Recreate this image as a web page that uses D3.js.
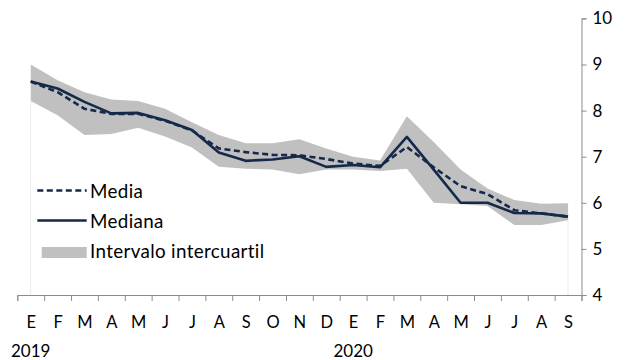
<!DOCTYPE html>
<html>
<head>
<meta charset="utf-8">
<script src="https://cdn.jsdelivr.net/npm/d3@7"></script>
<style>
  html, body { margin: 0; padding: 0; background: #ffffff; }
  svg { display: block; }
  text { font-family: Lato, "Open Sans", sans-serif; fill: #000; }
</style>
</head>
<body>
<svg id="chart" width="625" height="360"></svg>
<script>
// ---- Data ----
const months = ["E","F","M","A","M","J","J","A","S","O","N","D","E","F","M","A","M","J","J","A","S"];
const years = [{idx: 0, label: "2019"}, {idx: 12, label: "2020"}];
const media   = [8.63, 8.40, 8.04, 7.93, 7.93, 7.78, 7.57, 7.18, 7.10, 7.04, 7.03, 6.95, 6.85, 6.80, 7.21, 6.77, 6.36, 6.19, 5.84, 5.77, 5.70];
const mediana = [8.63, 8.48, 8.19, 7.94, 7.95, 7.79, 7.58, 7.09, 6.91, 6.94, 7.01, 6.78, 6.82, 6.77, 7.43, 6.72, 6.00, 6.00, 5.78, 5.77, 5.70];
const q3      = [9.00, 8.66, 8.40, 8.24, 8.21, 8.04, 7.75, 7.47, 7.29, 7.29, 7.38, 7.18, 7.00, 6.92, 7.88, 7.32, 6.72, 6.31, 6.06, 5.98, 5.99];
const q1      = [8.21, 7.90, 7.47, 7.49, 7.63, 7.44, 7.20, 6.78, 6.74, 6.72, 6.62, 6.72, 6.72, 6.69, 6.74, 6.00, 5.97, 5.93, 5.52, 5.52, 5.62];
const yTicks = [4, 5, 6, 7, 8, 9, 10];
const legendItems = ["Media", "Mediana", "Intervalo intercuartil"];

// ---- Layout ----
const svg = d3.select("#chart");
const plotLeft = 17.3, plotRight = 581.5, plotTop = 18.4, plotBottom = 295;
const n = months.length;
const x = d3.scaleLinear().domain([-0.5, n - 0.5]).range([plotLeft, plotRight]);
const y = d3.scaleLinear().domain([4, 10]).range([plotBottom, plotTop]);

const axisColor = "#8c8c8c";
const lineColor = "#15294a";
const bandColor = "#c0c0c0";

// Band
const area = d3.area()
  .x((d, i) => x(i))
  .y0((d, i) => y(q1[i]))
  .y1((d, i) => y(q3[i]));
svg.append("path").datum(q1).attr("d", area).attr("fill", bandColor);

// faint edges of the area series
[0, n - 1].forEach(i => {
  svg.append("line")
    .attr("x1", x(i)).attr("x2", x(i))
    .attr("y1", y(q1[i])).attr("y2", y(4))
    .attr("stroke", "#ebebeb").attr("stroke-width", 1);
});

// Lines
const line = d3.line().x((d, i) => x(i)).y(d => y(d));
svg.append("path").datum(mediana).attr("d", line)
  .attr("fill", "none").attr("stroke", lineColor).attr("stroke-width", 2.6)
  .attr("stroke-linejoin", "round");
svg.append("path").datum(media).attr("d", line)
  .attr("fill", "none").attr("stroke", lineColor).attr("stroke-width", 2.6)
  .attr("stroke-dasharray", "6,3.5");

// X axis: tick marks between categories
const xTickAxis = d3.axisBottom(x)
  .tickValues(d3.range(n + 1).map(i => i - 0.5))
  .tickSize(6).tickFormat("");
const gx = svg.append("g").attr("transform", `translate(0,${plotBottom})`).call(xTickAxis);
gx.select(".domain").attr("stroke", axisColor);
gx.selectAll(".tick line").attr("stroke", axisColor);

// X axis: month labels
const xLabelAxis = d3.axisBottom(x)
  .tickValues(d3.range(n)).tickSize(0)
  .tickFormat(i => months[i]);
const gxl = svg.append("g").attr("transform", `translate(0,${plotBottom})`).call(xLabelAxis);
gxl.select(".domain").remove();
gxl.selectAll(".tick text")
  .attr("y", 33).attr("dy", null)
  .style("font-family", "Lato, 'Open Sans', sans-serif")
  .style("font-size", "16.5px").attr("fill", "#000");

// Year labels
svg.selectAll("text.year").data(years).enter().append("text")
  .attr("class", "year")
  .attr("x", d => x(d.idx)).attr("y", 357)
  .attr("text-anchor", "middle")
  .style("font-size", "17px")
  .text(d => d.label);

// Y axis (right)
const yAxis = d3.axisRight(y).tickValues(yTicks).tickSize(5).tickPadding(6)
  .tickFormat(d3.format("d"));
const gy = svg.append("g").attr("transform", `translate(${plotRight},0)`).call(yAxis);
gy.select(".domain").attr("stroke", axisColor);
gy.selectAll(".tick line").attr("stroke", axisColor);
gy.selectAll(".tick text")
  .style("font-family", "Lato, 'Open Sans', sans-serif")
  .style("font-size", "17px").attr("fill", "#000");

// Legend
const lg = svg.append("g");
const lx0 = 37.3, lx1 = 86.7, tx = 90;
lg.append("line").attr("x1", lx0).attr("x2", lx1).attr("y1", 190.5).attr("y2", 190.5)
  .attr("stroke", lineColor).attr("stroke-width", 2.6).attr("stroke-dasharray", "6,3.5");
lg.append("line").attr("x1", lx0).attr("x2", lx1).attr("y1", 220.5).attr("y2", 220.5)
  .attr("stroke", lineColor).attr("stroke-width", 2.6);
lg.append("rect").attr("x", 41.7).attr("y", 247).attr("width", lx1 - 41.7).attr("height", 11)
  .attr("fill", bandColor);
const ly = [197.5, 227.8, 257.8];
lg.selectAll("text.leg").data(legendItems).enter().append("text")
  .attr("class", "leg")
  .attr("x", tx).attr("y", (d, i) => ly[i])
  .style("font-size", "18.8px")
  .style("letter-spacing", "0.35px")
  .text(d => d);
</script>
</body>
</html>
